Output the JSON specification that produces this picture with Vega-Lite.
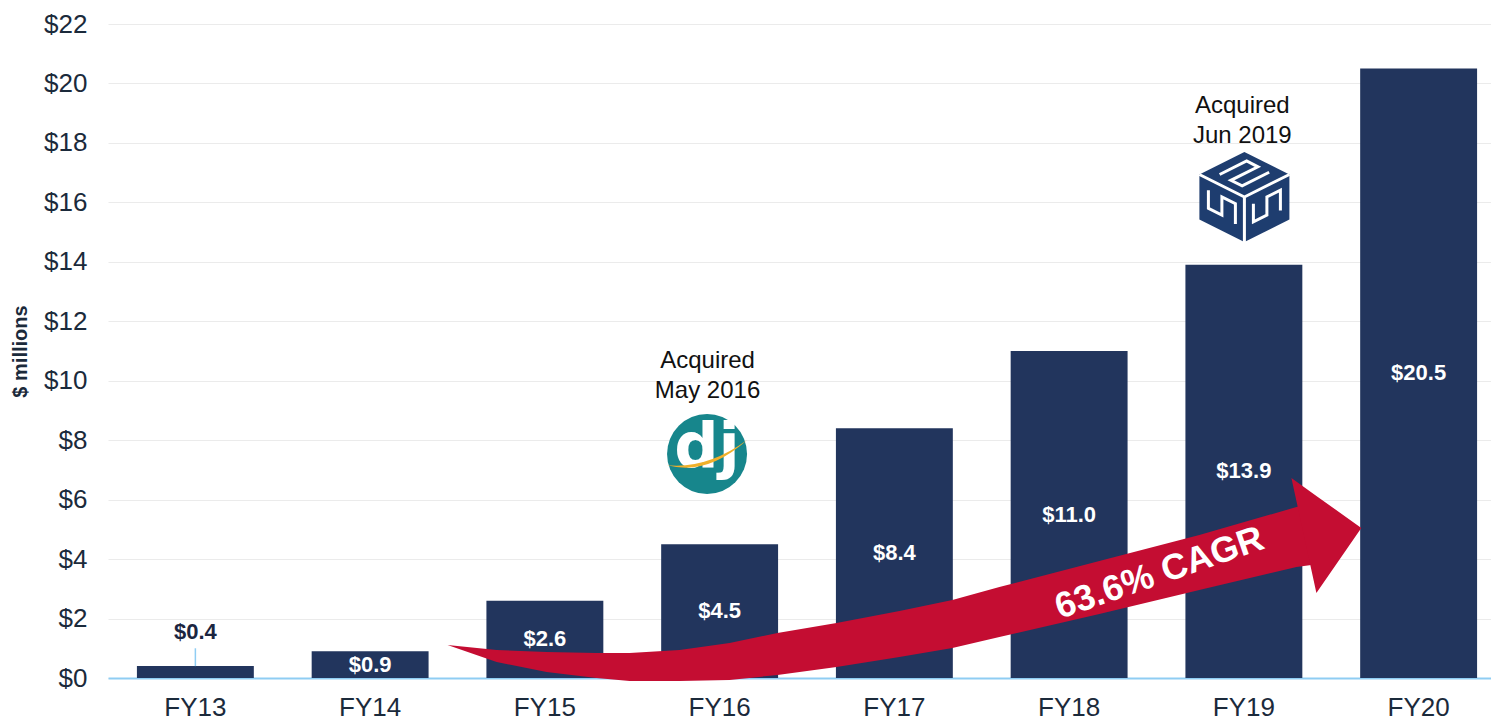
{
  "$schema": "https://vega.github.io/schema/vega-lite/v6.json",
  "width": 1398,
  "height": 654,
  "autosize": {"type": "none"},
  "padding": {"left": 108, "top": 24, "right": 0, "bottom": 47},
  "background": "white",
  "config": {
    "view": {"stroke": null},
    "font": "Liberation Sans",
    "axis": {"labelFont": "Liberation Sans", "titleFont": "Liberation Sans"}
  },
  "layer": [
    {
      "data": {
        "values": [
          {"fy": "FY13", "value": 0.4},
          {"fy": "FY14", "value": 0.9},
          {"fy": "FY15", "value": 2.6},
          {"fy": "FY16", "value": 4.5},
          {"fy": "FY17", "value": 8.4},
          {"fy": "FY18", "value": 11.0},
          {"fy": "FY19", "value": 13.9},
          {"fy": "FY20", "value": 20.5}
        ]
      },
      "encoding": {
        "x": {
          "field": "fy",
          "type": "ordinal",
          "scale": {"paddingInner": 0.331, "paddingOuter": 0.1655},
          "axis": {
            "title": null,
            "labelAngle": 0,
            "labelFontSize": 26,
            "labelColor": "#1b2a3b",
            "labelPadding": 16,
            "ticks": false,
            "domain": true,
            "domainColor": "#8fcdf3",
            "domainWidth": 2,
            "grid": false
          }
        }
      },
      "layer": [
        {
          "mark": {"type": "bar", "color": "#22355d"},
          "encoding": {
            "y": {
              "field": "value",
              "type": "quantitative",
              "scale": {"domain": [0, 22], "nice": false},
              "axis": {
                "format": "$d",
                "values": [0, 2, 4, 6, 8, 10, 12, 14, 16, 18, 20, 22],
                "grid": true,
                "gridColor": "#ebebeb",
                "gridWidth": 1,
                "ticks": false,
                "domain": false,
                "labelFontSize": 26,
                "labelColor": "#1b2a3b",
                "labelPadding": 21,
                "title": "$ millions",
                "titleFontSize": 20,
                "titleFontWeight": "bold",
                "titleColor": "#1b2a3b",
                "titleX": -88,
                "titleY": 327,
                "titleAngle": 270,
                "titleAlign": "center",
                "titleBaseline": "middle"
              }
            }
          }
        },
        {
          "transform": [
            {"filter": "datum.value >= 0.5"},
            {"calculate": "datum.value / 2", "as": "mid"}
          ],
          "mark": {"type": "text", "color": "white", "fontWeight": "bold", "fontSize": 22, "baseline": "middle", "align": "center"},
          "encoding": {
            "y": {"field": "mid", "type": "quantitative", "scale": {"domain": [0, 22], "nice": false}},
            "text": {"field": "value", "type": "quantitative", "format": "$.1f"}
          }
        },
        {
          "transform": [{"filter": "datum.value < 0.5"}],
          "mark": {"type": "text", "color": "#1b2540", "fontWeight": "bold", "fontSize": 22, "baseline": "middle", "align": "center", "dy": -34},
          "encoding": {
            "y": {"field": "value", "type": "quantitative", "scale": {"domain": [0, 22], "nice": false}},
            "text": {"field": "value", "type": "quantitative", "format": "$.1f"}
          }
        },
        {
          "transform": [{"filter": "datum.value < 0.5"}],
          "mark": {"type": "rule", "color": "#8fcdf3", "strokeWidth": 1.5},
          "encoding": {
            "y": {"field": "value", "type": "quantitative", "scale": {"domain": [0, 22], "nice": false}},
            "y2": {"datum": 1.0}
          }
        }
      ]
    },
    {
      "layer": [
        {
          "data": {
            "values": [
              {"part": "body", "u": 1.943, "top": 1.110, "bottom": 1.110},
              {"part": "body", "u": 2.224, "top": 0.942, "bottom": 0.538},
              {"part": "body", "u": 2.510, "top": 0.875, "bottom": 0.202},
              {"part": "body", "u": 2.796, "top": 0.841, "bottom": 0.0},
              {"part": "body", "u": 2.985, "top": 0.841, "bottom": -0.101},
              {"part": "body", "u": 3.271, "top": 0.942, "bottom": -0.101},
              {"part": "body", "u": 3.557, "top": 1.177, "bottom": -0.067},
              {"part": "body", "u": 3.831, "top": 1.514, "bottom": 0.101},
              {"part": "body", "u": 4.169, "top": 1.850, "bottom": 0.370},
              {"part": "body", "u": 4.529, "top": 2.254, "bottom": 0.706},
              {"part": "body", "u": 4.832, "top": 2.624, "bottom": 1.009},
              {"part": "body", "u": 5.101, "top": 3.061, "bottom": 1.379},
              {"part": "body", "u": 5.673, "top": 3.936, "bottom": 2.153},
              {"part": "body", "u": 6.245, "top": 4.810, "bottom": 2.960},
              {"part": "body", "u": 6.801, "top": 5.752, "bottom": 3.734},
              {"part": "body", "u": 6.886, "top": 5.887, "bottom": 3.801},
              {"part": "head", "u": 6.772, "top": 6.728, "bottom": 6.728},
              {"part": "head", "u": 6.915, "top": 6.126, "bottom": 2.859},
              {"part": "head", "u": 7.172, "top": 5.046, "bottom": 5.046}
            ]
          },
          "mark": {"type": "area", "color": "#c40d32", "opacity": 1},
          "encoding": {
            "x": {"field": "u", "type": "quantitative", "scale": {"domain": [0, 8], "nice": false, "zero": false}, "axis": null},
            "y": {"field": "top", "type": "quantitative", "scale": {"domain": [0, 22], "nice": false}},
            "y2": {"field": "bottom"},
            "detail": {"field": "part"}
          }
        },
        {
          "data": {"values": [{"u": 6.017, "v": 3.53, "label": "63.6% CAGR"}]},
          "mark": {"type": "text", "color": "white", "fontWeight": "bold", "fontSize": 36, "angle": 341, "align": "center", "baseline": "middle"},
          "encoding": {
            "x": {"field": "u", "type": "quantitative", "scale": {"domain": [0, 8], "nice": false, "zero": false}, "axis": null},
            "y": {"field": "v", "type": "quantitative", "scale": {"domain": [0, 22], "nice": false}},
            "text": {"field": "label"}
          }
        },
        {
          "data": {
            "values": [
              {"u": 3.431, "v": 10.664, "label": "Acquired\nMay 2016"},
              {"u": 6.491, "v": 19.242, "label": "Acquired\nJun 2019"}
            ]
          },
          "mark": {"type": "text", "color": "#111111", "fontSize": 24, "lineBreak": "\n", "lineHeight": 30, "align": "center", "baseline": "middle"},
          "encoding": {
            "x": {"field": "u", "type": "quantitative", "scale": {"domain": [0, 8], "nice": false, "zero": false}, "axis": null},
            "y": {"field": "v", "type": "quantitative", "scale": {"domain": [0, 22], "nice": false}},
            "text": {"field": "label"}
          }
        },
        {
          "data": {"values": [{"u": 3.428, "v": 7.535, "logo": "dj"}]},
          "encoding": {
            "x": {"field": "u", "type": "quantitative", "scale": {"domain": [0, 8], "nice": false, "zero": false}, "axis": null},
            "y": {"field": "v", "type": "quantitative", "scale": {"domain": [0, 22], "nice": false}}
          },
          "layer": [
            {"mark": {"type": "point", "shape": "circle", "filled": true, "size": 6400, "color": "#17868c", "opacity": 1}},
            {"mark": {"type": "text", "color": "white", "font": "DejaVu Sans", "fontWeight": "bold", "fontSize": 62, "align": "center", "baseline": "middle", "dy": -6}, "encoding": {"text": {"field": "logo"}}},
            {"mark": {"type": "point", "shape": "M -1 0.28 Q 0 0.55 1 -0.35 Q 0 0.38 -1 0.28 Z", "filled": true, "size": 6400, "color": "#f0b02a", "opacity": 1}}
          ]
        },
        {
          "data": {"values": [{"u": 6.503, "v": 16.181, "logo": "sj"}]},
          "encoding": {
            "x": {"field": "u", "type": "quantitative", "scale": {"domain": [0, 8], "nice": false, "zero": false}, "axis": null},
            "y": {"field": "v", "type": "quantitative", "scale": {"domain": [0, 22], "nice": false}}
          },
          "layer": [
            {"mark": {"type": "point", "shape": "M 0 -1 L 1 -0.5 L 1 0.5 L 0 1 L -1 0.5 L -1 -0.5 Z", "filled": true, "size": 8100, "color": "#1e3d6f", "opacity": 1}},
            {"mark": {"type": "point", "shape": "M 0 0 L 0 1 M 0 0 L -1 -0.5 M 0 0 L 1 -0.5 M -0.55 -0.5 L 0.05 -0.8 L 0.3 -0.67 L -0.3 -0.37 L -0.05 -0.25 L 0.55 -0.55 M -0.8 -0.15 L -0.8 0.25 L -0.5 0.4 L -0.5 0.0 L -0.2 0.15 L -0.2 0.6 M 0.2 0.15 L 0.2 0.55 L 0.5 0.4 L 0.5 0.0 L 0.8 -0.15 L 0.8 0.3", "filled": false, "size": 8100, "stroke": "white", "strokeWidth": 3, "opacity": 1}}
          ]
        }
      ]
    }
  ],
  "resolve": {"scale": {"x": "independent"}}
}
